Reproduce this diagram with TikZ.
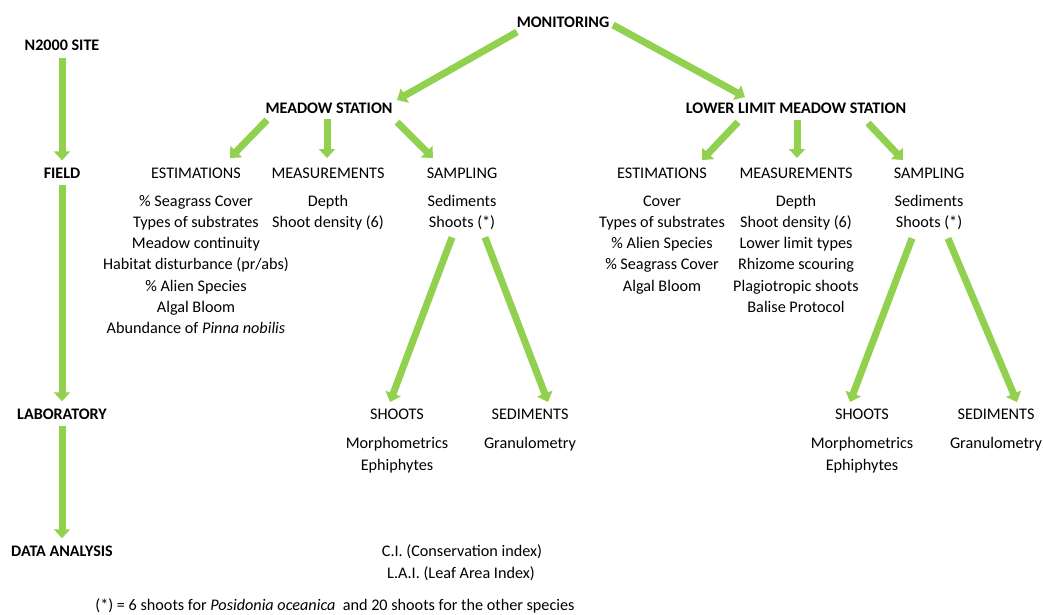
\documentclass[tikz,border=0pt]{standalone}
\usepackage{fontspec}
\setmainfont{Carlito}
\usetikzlibrary{arrows.meta}
\definecolor{grn}{HTML}{92D050}
\begin{document}
\begin{tikzpicture}[x=1pt,y=-1pt,
  txt/.style={font=\fontsize{16.2}{19}\selectfont, inner sep=0pt, anchor=base},
  hd/.style={txt, font=\fontsize{16.1}{19}\selectfont\bfseries},
  arr/.style={draw=grn, line width=7pt, -{Triangle[length=9pt,width=16pt]}}]
\useasboundingbox (0,0) rectangle (1043,614);
% left column
\node[hd] (site) at (62,50) {N2000 SITE};
\node[hd] (field) at (62,178) {FIELD};
\node[hd] (lab) at (62,419) {LABORATORY};
\node[hd] (data) at (62,556) {DATA ANALYSIS};
% top
\node[hd] (mon) at (563,27) {MONITORING};
\node[hd] (ms) at (329,113) {MEADOW STATION};
\node[hd] (ll) at (796,113) {LOWER LIMIT MEADOW STATION};
% level 2 headings
\node[txt] (est) at (196,178) {ESTIMATIONS};
\node[txt] (meas) at (328,178) {MEASUREMENTS};
\node[txt] (samp) at (462,178) {SAMPLING};
\node[txt] (est2) at (662,178) {ESTIMATIONS};
\node[txt] (meas2) at (796,178) {MEASUREMENTS};
\node[txt] (samp2) at (929,178) {SAMPLING};
% lists
\foreach \t [count=\i] in {\% Seagrass Cover, Types of substrates, Meadow continuity, Habitat disturbance (pr/abs), \% Alien Species, Algal Bloom, {Abundance of \textit{Pinna nobilis}}}
  \node[txt] (el\i) at (196,{206+(\i-1)*21.3}) {\t};
\foreach \t [count=\i] in {Depth, Shoot density (6)}
  \node[txt] (ml\i) at (328,{206+(\i-1)*21.3}) {\t};
\foreach \t [count=\i] in {Sediments, Shoots (*)}
  \node[txt] (sl\i) at (462,{206+(\i-1)*21.3}) {\t};
\foreach \t [count=\i] in {Cover, Types of substrates, \% Alien Species, \% Seagrass Cover, Algal Bloom}
  \node[txt] (er\i) at (662,{206+(\i-1)*21.3}) {\t};
\foreach \t [count=\i] in {Depth, Shoot density (6), Lower limit types, Rhizome scouring, Plagiotropic shoots, Balise Protocol}
  \node[txt] (mr\i) at (796,{206+(\i-1)*21.3}) {\t};
\foreach \t [count=\i] in {Sediments, Shoots (*)}
  \node[txt] (sr\i) at (929,{206+(\i-1)*21.3}) {\t};
% laboratory
\node[txt] (sh) at (397,419) {SHOOTS};
\node[txt] (se) at (530,419) {SEDIMENTS};
\node[txt] (sh1) at (397,448) {Morphometrics};
\node[txt] (sh2) at (397,470) {Ephiphytes};
\node[txt] (se1) at (530,448) {Granulometry};
\node[txt] (shr) at (862,419) {SHOOTS};
\node[txt] (ser) at (996,419) {SEDIMENTS};
\node[txt] (shr1) at (862,448) {Morphometrics};
\node[txt] (shr2) at (862,470) {Ephiphytes};
\node[txt] (ser1) at (996,448) {Granulometry};
% data analysis
\node[txt] (ci) at (462,556) {C.I. (Conservation index)};
\node[txt] (lai) at (461,578) {L.A.I. (Leaf Area Index)};
\node[txt] (note) at (335,610) {(*) = 6 shoots for \textit{Posidonia oceanica}\ \ and 20 shoots for the other species};
% arrows left column
\draw[arr] ([yshift=-8pt]site.south) -- ([yshift=7pt]field.north);
\draw[arr] ([yshift=-7pt]field.south) -- ([yshift=7pt]lab.north);
\draw[arr] ([yshift=-7pt]lab.south) -- ([yshift=7pt]data.north);
% monitoring
\draw[arr] ([shift={(-46,5)}]mon.base) -- ([shift={(68,-13)}]ms.base);
\draw[arr] ([shift={(50,-2)}]mon.base) -- ([shift={(-51,-16)}]ll.base);
% meadow station
\draw[arr] ([shift={(-62,7)}]ms.base) -- ([shift={(34,-20)}]est.base);
\draw[arr] ([shift={(-2,6)}]ms.base) -- ([shift={(-1,-20)}]meas.base);
\draw[arr] ([shift={(68,9)}]ms.base) -- ([shift={(-29,-20)}]samp.base);
% lower limit
\draw[arr] ([shift={(-58,9)}]ll.base) -- ([shift={(40,-18)}]est2.base);
\draw[arr] ([shift={(1,7)}]ll.base) -- ([shift={(1,-20)}]meas2.base);
\draw[arr] ([shift={(72,10)}]ll.base) -- ([shift={(-26,-18)}]samp2.base);
% sampling to lab
\draw[arr] ([shift={(-10,10)}]sl2.base) -- ([shift={(-7,-17)}]sh.base);
\draw[arr] ([shift={(23,10)}]sl2.base) -- ([shift={(18,-17)}]se.base);
\draw[arr] ([shift={(-17,11)}]sr2.base) -- ([shift={(-12,-17)}]shr.base);
\draw[arr] ([shift={(19,11)}]sr2.base) -- ([shift={(21,-17)}]ser.base);
\end{tikzpicture}
\end{document}
